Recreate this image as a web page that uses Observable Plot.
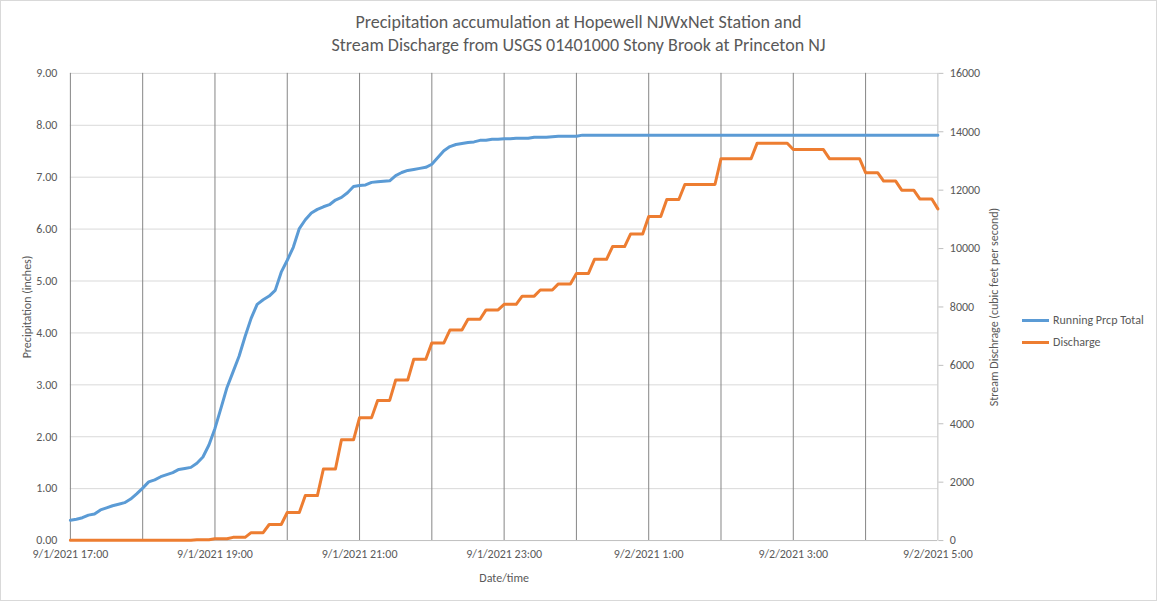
<!DOCTYPE html>
<html>
<head>
<meta charset="utf-8">
<script src="https://cdn.jsdelivr.net/npm/d3@7"></script>
<script src="https://cdn.jsdelivr.net/npm/@observablehq/plot@0.6"></script>
<style>
  html, body { margin: 0; padding: 0; background: #fff; }
  #chart { position: relative; width: 1157px; height: 601px; box-sizing: border-box; border: 1px solid #d9d9d9; overflow: hidden;
           font-family: Calibri, Carlito, Lato, sans-serif; color: #595959; }
  #chart svg { position: absolute; left: -1px; top: -1px; }
  #title { position: absolute; left: 0; top: 10px; width: 100%; text-align: center; font-size: 18px; line-height: 23px; color: #595959; }
  #legend { position: absolute; left: 1021px; top: 308px; font-size: 12px; color: #595959; }
  #legend .item { display: flex; align-items: center; height: 22px; }
  #legend .sw { width: 27px; height: 3px; margin-right: 4px; }
</style>
</head>
<body>
<div id="chart">
  <div id="title">Precipitation accumulation at Hopewell NJWxNet Station and<br>Stream Discharge from USGS 01401000 Stony Brook at Princeton NJ</div>
  <div id="legend"></div>
</div>
<script>
// ---- data (5-minute readings starting 9/1/2021 17:00) ----
const startTime = Date.UTC(2021, 8, 1, 17, 0);
const stepMinutes = 5;

// Running precipitation total (inches), every 5 minutes, 17:00 .. 05:00
const precip = [
  0.39, 0.41, 0.44, 0.49, 0.51, 0.59, 0.63, 0.67, 0.70, 0.73, 0.80, 0.90,
  1.01, 1.13, 1.17, 1.23, 1.27, 1.31, 1.37, 1.39, 1.41, 1.49, 1.61, 1.84,
  2.16, 2.55, 2.95, 3.25, 3.55, 3.93, 4.28, 4.55, 4.64, 4.71, 4.82, 5.17,
  5.40, 5.65, 6.01, 6.18, 6.31, 6.38, 6.43, 6.47, 6.56, 6.61, 6.70, 6.82,
  6.84, 6.85, 6.90, 6.91, 6.92, 6.93, 7.03, 7.09, 7.13, 7.15, 7.17, 7.19,
  7.25, 7.38, 7.51, 7.59, 7.63, 7.65, 7.67, 7.68, 7.71, 7.71, 7.73, 7.73,
  7.74, 7.74, 7.75, 7.75, 7.75, 7.77, 7.77, 7.77, 7.78, 7.79, 7.79, 7.79,
  7.79, 7.81, 7.81, 7.81, 7.81, 7.81, 7.81, 7.81, 7.81, 7.81, 7.81, 7.81,
  7.81, 7.81, 7.81, 7.81, 7.81, 7.81, 7.81, 7.81, 7.81, 7.81, 7.81, 7.81,
  7.81, 7.81, 7.81, 7.81, 7.81, 7.81, 7.81, 7.81, 7.81, 7.81, 7.81, 7.81,
  7.81, 7.81, 7.81, 7.81, 7.81, 7.81, 7.81, 7.81, 7.81, 7.81, 7.81, 7.81,
  7.81, 7.81, 7.81, 7.81, 7.81, 7.81, 7.81, 7.81, 7.81, 7.81, 7.81, 7.81,
  7.81
];

// USGS discharge (cfs), reported every 15 minutes, 17:00 .. 05:00
const discharge15 = [
  10, 10, 10, 10, 10, 10, 10, 25, 60, 110, 270, 550,
  960, 1540, 2450, 3450, 4210, 4800, 5500, 6210, 6770, 7210, 7580, 7900,
  8090, 8370, 8580, 8790, 9150, 9630, 10070, 10500, 11100, 11680, 12195, 12195,
  13080, 13080, 13610, 13610, 13390, 13390, 13080, 13080, 12600, 12310, 12000, 11700,
  11360
];

const leftTicks = [0, 1, 2, 3, 4, 5, 6, 7, 8, 9];
const rightTicks = [0, 2000, 4000, 6000, 8000, 10000, 12000, 14000, 16000];
const leftMax = 9, rightMax = 16000;
const seriesNames = ["Running Prcp Total", "Discharge"];
const seriesColors = ["#5b9bd5", "#ed7d31"];

// ---- build table ----
const data = precip.map((p, i) => ({
  time: new Date(startTime + i * stepMinutes * 60000),
  precip: p,
  discharge: discharge15[Math.floor(i / 3)]
}));
const endTime = new Date(startTime + (precip.length - 1) * stepMinutes * 60000);
const hourTicks = d3.utcHour.range(new Date(startTime), endTime);
const labelTicks = d3.utcHour.range(new Date(startTime), new Date(+endTime + 1), 2);
const toLeft = d => d * leftMax / rightMax;
const fmtDate = d => `${d.getUTCMonth() + 1}/${d.getUTCDate()}/${d.getUTCFullYear()} ${d.getUTCHours()}:${String(d.getUTCMinutes()).padStart(2, "0")}`;

const font = "Calibri, Carlito, Lato, sans-serif";
const plot = Plot.plot({
  width: 1157,
  height: 601,
  marginLeft: 70,
  marginRight: 218,
  marginTop: 73,
  marginBottom: 60,
  style: { fontFamily: font, fontSize: "12px", color: "#595959", background: "transparent" },
  x: { type: "utc", domain: [new Date(startTime), endTime] },
  y: { domain: [0, leftMax] },
  marks: [
    Plot.ruleY(leftTicks.filter(d => d > 0), { stroke: "#d9d9d9", strokeWidth: 1 }),
    Plot.ruleX(hourTicks, { stroke: "#868686", strokeWidth: 1 }),
    Plot.ruleY([0], { stroke: "#bfbfbf", strokeWidth: 1 }),
    Plot.ruleX([endTime], { stroke: "#bfbfbf", strokeWidth: 1 }),
    Plot.axisY({
      anchor: "left", ticks: leftTicks, tickSize: 0, tickPadding: 13,
      tickFormat: d3.format(".2f"), fill: "#595959",
      label: "Precipitation (inches)", labelAnchor: "center", labelArrow: "none", labelOffset: 48
    }),
    Plot.axisY({
      anchor: "right", ticks: rightTicks.map(toLeft), tickSize: 5, tickPadding: 7,
      tickFormat: d => String(Math.round(d * rightMax / leftMax)),
      stroke: "#bfbfbf", fill: "#595959",
      label: "Stream Dischrage (cubic feet per second)", labelAnchor: "center", labelArrow: "none", labelOffset: 60
    }),
    Plot.axisX({
      ticks: labelTicks, tickSize: 0, tickPadding: 9, tickFormat: fmtDate, fill: "#595959",
      label: "Date/time", labelAnchor: "center", labelArrow: "none", labelOffset: 42
    }),
    Plot.lineY(data, { x: "time", y: "precip", stroke: seriesColors[0], strokeWidth: 3, strokeLinejoin: "round", strokeLinecap: "round" }),
    Plot.lineY(data, { x: "time", y: d => toLeft(d.discharge), stroke: seriesColors[1], strokeWidth: 3, strokeLinejoin: "round", strokeLinecap: "round" })
  ]
});
document.getElementById("chart").appendChild(plot);

const legend = document.getElementById("legend");
seriesNames.forEach((name, i) => {
  const item = document.createElement("div");
  item.className = "item";
  item.innerHTML = `<span class="sw" style="background:${seriesColors[i]}"></span><span>${name}</span>`;
  legend.appendChild(item);
});
</script>
</body>
</html>
